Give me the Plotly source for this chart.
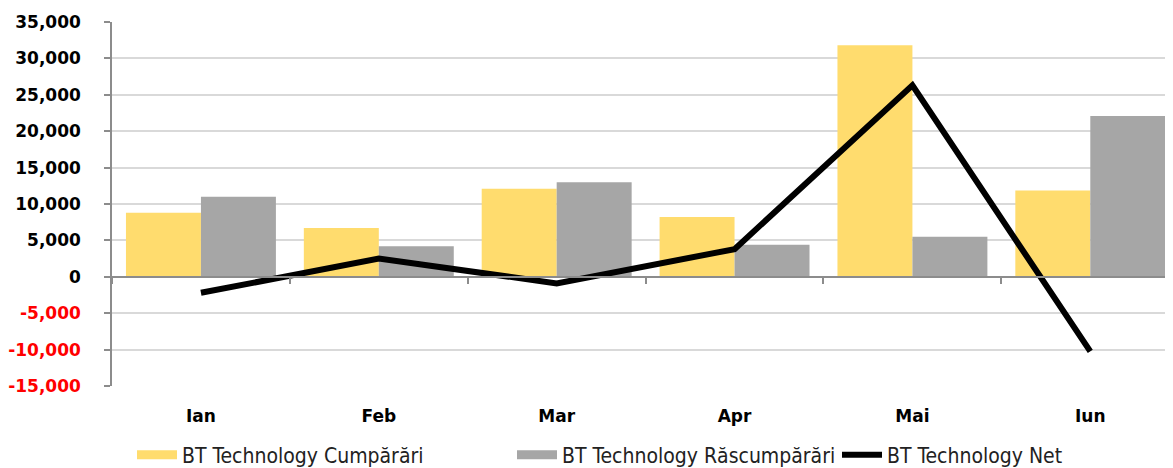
import plotly.graph_objects as go

months = ["Ian", "Feb", "Mar", "Apr", "Mai", "Iun"]
cumparari = [8800, 6700, 12100, 8200, 31800, 11850]
rascumparari = [11000, 4200, 13000, 4400, 5500, 22100]
net = [-2200, 2500, -900, 3800, 26300, -10250]

ytick_vals = [35000, 30000, 25000, 20000, 15000, 10000, 5000, 0, -5000, -10000, -15000]

names = ["BT Technology Cumpărări", "BT Technology Răscumpărări", "BT Technology Net"]
colors = ["#FFDC6E", "#A6A6A6", "#000000"]

def fmt(v):
    s = f"{v:,}"
    if v < 0:
        return f"<span style='color:#ff0000'>{s}</span>"
    return s

ytick_text = [fmt(v) for v in ytick_vals]

# page body has an 8px margin; figure is sized to fill the rest of the window
W, H = 1165, 460
OFF = 8

fig = go.Figure()
fig.add_trace(go.Bar(x=months, y=cumparari, name=names[0], showlegend=False,
                     marker=dict(color=colors[0], line=dict(width=0))))
fig.add_trace(go.Bar(x=months, y=rascumparari, name=names[1], showlegend=False,
                     marker=dict(color=colors[1], line=dict(width=0))))
fig.add_trace(go.Scatter(x=months, y=net, name=names[2], mode="lines",
                         xaxis="x2", legend="legend3",
                         line=dict(color=colors[2], width=6)))
# legend entries drawn as wide swatches (like the reference) for the bar series
fig.add_trace(go.Scatter(x=[None], y=[None], name=names[0], mode="lines", legend="legend",
                         line=dict(color=colors[0], width=9), hoverinfo="skip"))
fig.add_trace(go.Scatter(x=[None], y=[None], name=names[1], mode="lines", legend="legend2",
                         line=dict(color=colors[1], width=9), hoverinfo="skip"))

legfont = dict(family="Liberation Sans Narrow, DejaVu Sans Condensed", size=21, color="#222222")

def leg(xpx):
    return dict(orientation="h", xref="container", yref="container",
                x=(xpx - OFF) / W, xanchor="left", y=(H - (455 - OFF)) / H, yanchor="middle",
                font=legfont, itemwidth=40, bgcolor="rgba(0,0,0,0)")

fig.update_layout(
    width=W, height=H,
    margin=dict(l=112 - OFF, r=0, t=22 - OFF, b=82, autoexpand=False),
    paper_bgcolor="white", plot_bgcolor="white",
    barmode="group", bargap=0.157, bargroupgap=0,
    font=dict(family="DejaVu Sans", color="#000000"),
    xaxis=dict(type="category", range=[-0.5, 5.465], showline=False, ticks="",
               showgrid=False, zeroline=False, automargin=False,
               tickfont=dict(family="DejaVu Sans", size=17, weight="bold", color="#000000"),
               ticklabelstandoff=18),
    xaxis2=dict(type="category", matches="x", overlaying="x", anchor="free", position=0.3,
                side="bottom", showline=True, linecolor="#8c8c8c", linewidth=1.5,
                ticks="outside", ticklen=6, tickcolor="#8c8c8c", tickwidth=1.5, automargin=False,
                tickson="boundaries", showticklabels=False, showgrid=False, zeroline=False),
    yaxis=dict(range=[-15000, 35000], tickvals=ytick_vals, ticktext=ytick_text,
               showgrid=True, gridcolor="#d9d9d9", gridwidth=1.5, automargin=False,
               zeroline=False, showline=True, linecolor="#8c8c8c", linewidth=1.5,
               ticks="outside", ticklen=6, tickcolor="#8c8c8c", tickwidth=1.5,
               tickfont=dict(family="DejaVu Sans", size=17, weight="bold", color="#000000"),
               ticklabelstandoff=20),
    legend=leg(132),
    legend2=leg(512),
    legend3=leg(837),
    showlegend=True,
)

fig.write_html("out.html")
